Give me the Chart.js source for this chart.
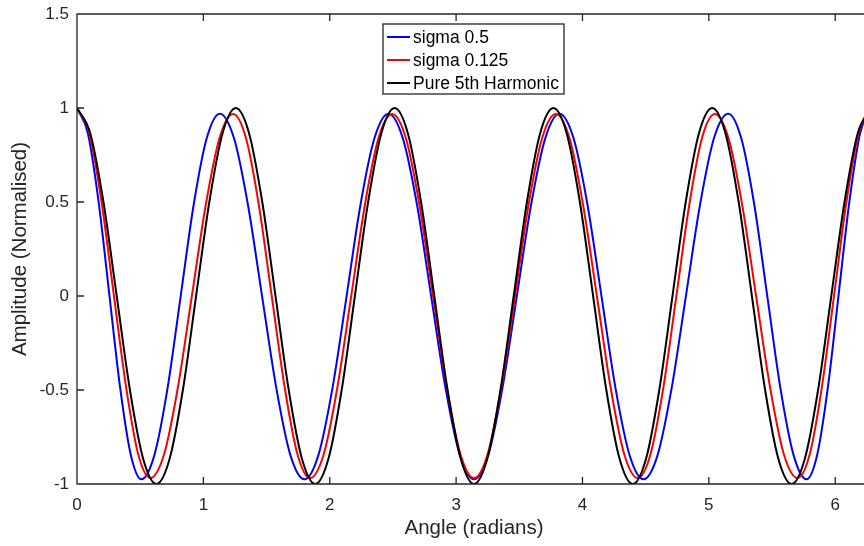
<!DOCTYPE html>
<html>
<head>
<meta charset="utf-8">
<script src="https://cdn.jsdelivr.net/npm/chart.js@4/dist/chart.umd.min.js"></script>
<style>
  html, body { margin: 0; padding: 0; background: #fff; overflow: hidden; }
  #wrap { position: absolute; left: 0; top: 0; width: 880px; height: 546px; }
</style>
</head>
<body>
<div id="wrap"><canvas id="c" width="880" height="546"></canvas></div>
<script>
// ---- data ----
const seriesLabels = ['sigma 0.5', 'sigma 0.125', 'Pure 5th Harmonic'];
const xTickValues = [0, 1, 2, 3, 4, 5, 6];
const yTickValues = [-1, -0.5, 0, 0.5, 1, 1.5];

const blueX = [0, 0.085, 0.17, 0.255, 0.34, 0.425, 0.51,
  0.613, 0.717, 0.82, 0.923, 1.027, 1.13,
  1.242, 1.353, 1.465, 1.577, 1.688, 1.80,
  1.911, 2.022, 2.133, 2.243, 2.354, 2.465,
  2.578, 2.691, 2.803, 2.916, 3.029, 3.1416,
  3.255, 3.367, 3.48, 3.593, 3.706, 3.818,
  3.929, 4.040, 4.151, 4.261, 4.372, 4.483,
  4.595, 4.706, 4.818, 4.930, 5.041, 5.153,
  5.256, 5.36, 5.463, 5.566, 5.67, 5.773,
  5.858, 5.943, 6.028, 6.113, 6.198, 6.2832];
const blueY = [1, 0.868, 0.506, 0.013, -0.481, -0.843, -0.975,
  -0.845, -0.489, -0.003, 0.484, 0.84, 0.97,
  0.84, 0.484, -0.003, -0.489, -0.845, -0.975,
  -0.845, -0.489, -0.003, 0.484, 0.84, 0.97,
  0.84, 0.484, -0.003, -0.489, -0.845, -0.975,
  -0.845, -0.489, -0.003, 0.484, 0.84, 0.97,
  0.84, 0.484, -0.003, -0.489, -0.845, -0.975,
  -0.845, -0.489, -0.003, 0.484, 0.84, 0.97,
  0.84, 0.484, -0.003, -0.489, -0.845, -0.975,
  -0.843, -0.481, 0.013, 0.506, 0.868, 1];

const redX = [0, 0.097, 0.193, 0.29, 0.387, 0.483, 0.58,
  0.69, 0.799, 0.909, 1.019, 1.128, 1.236,
  1.337, 1.439, 1.541, 1.643, 1.744, 1.845,
  1.953, 2.061, 2.17, 2.278, 2.386, 2.494,
  2.602, 2.71, 2.818, 2.926, 3.034, 3.1416,
  3.25, 3.358, 3.466, 3.573, 3.681, 3.789,
  3.897, 4.005, 4.114, 4.222, 4.33, 4.438,
  4.539, 4.641, 4.743, 4.845, 4.946, 5.047,
  5.155, 5.264, 5.374, 5.484, 5.593, 5.703,
  5.8, 5.896, 5.993, 6.09, 6.186, 6.2832];
const redY = [1, 0.868, 0.506, 0.013, -0.478, -0.838, -0.968,
  -0.84, -0.484, 0, 0.484, 0.84, 0.968,
  0.84, 0.484, 0, -0.484, -0.84, -0.968,
  -0.84, -0.484, 0, 0.484, 0.84, 0.968,
  0.84, 0.484, 0, -0.484, -0.84, -0.968,
  -0.84, -0.484, 0, 0.484, 0.84, 0.968,
  0.84, 0.484, 0, -0.484, -0.84, -0.968,
  -0.84, -0.484, 0, 0.484, 0.84, 0.968,
  0.84, 0.484, 0, -0.484, -0.84, -0.968,
  -0.838, -0.478, 0.013, 0.506, 0.868, 1];

const blackX = [0, 0.1047, 0.2094, 0.3142, 0.4189, 0.5236, 0.6283, 0.733, 0.8378, 0.9425,
  1.0472, 1.1519, 1.2566, 1.3614, 1.4661, 1.5708, 1.6755, 1.7802, 1.885, 1.9897,
  2.0944, 2.1991, 2.3038, 2.4086, 2.5133, 2.618, 2.7227, 2.8274, 2.9322, 3.0369,
  3.1416, 3.2463, 3.351, 3.4558, 3.5605, 3.6652, 3.7699, 3.8746, 3.9794, 4.0841,
  4.1888, 4.2935, 4.3982, 4.503, 4.6077, 4.7124, 4.8171, 4.9218, 5.0265, 5.1313,
  5.236, 5.3407, 5.4454, 5.5501, 5.6549, 5.7596, 5.8643, 5.969, 6.0737, 6.1785, 6.2832];
const blackY = [1, 0.866, 0.5, 0, -0.5, -0.866, -1, -0.866, -0.5, 0, 0.5, 0.866,
  1, 0.866, 0.5, 0, -0.5, -0.866, -1, -0.866, -0.5, 0, 0.5, 0.866,
  1, 0.866, 0.5, 0, -0.5, -0.866, -1, -0.866, -0.5, 0, 0.5, 0.866,
  1, 0.866, 0.5, 0, -0.5, -0.866, -1, -0.866, -0.5, 0, 0.5, 0.866,
  1, 0.866, 0.5, 0, -0.5, -0.866, -1, -0.866, -0.5, 0, 0.5, 0.866,
  1];

const xTitle = 'Angle (radians)';
const yTitle = 'Amplitude (Normalised)';
// --------------------------------------

const FONT = '"Liberation Sans", Arial, Helvetica, sans-serif';
const AXIS = '#262626';

function pts(xs, ys) { return xs.map((x, i) => ({ x: x, y: ys[i] })); }

const boxTicks = {
  id: 'boxTicks',
  afterDraw(chart) {
    const { ctx, chartArea: a, scales } = chart;
    const L = 7;
    ctx.save();
    ctx.strokeStyle = AXIS;
    ctx.lineWidth = 1.3;
    ctx.beginPath();
    ctx.rect(a.left, a.top, a.right - a.left, a.bottom - a.top);
    scales.x.ticks.forEach(t => {
      const px = scales.x.getPixelForValue(t.value);
      ctx.moveTo(px, a.bottom); ctx.lineTo(px, a.bottom - L);
      ctx.moveTo(px, a.top); ctx.lineTo(px, a.top + L);
    });
    scales.y.ticks.forEach(t => {
      const py = scales.y.getPixelForValue(t.value);
      ctx.moveTo(a.left, py); ctx.lineTo(a.left + L, py);
      ctx.moveTo(a.right, py); ctx.lineTo(a.right - L, py);
    });
    ctx.stroke();

    // legend box
    const lx = 383, ly = 24, lw = 181, lh = 70;
    ctx.fillStyle = '#fff';
    ctx.fillRect(lx, ly, lw, lh);
    ctx.strokeStyle = AXIS;
    ctx.lineWidth = 1.3;
    ctx.strokeRect(lx, ly, lw, lh);
    ctx.font = '17.5px ' + FONT;
    ctx.textBaseline = 'middle';
    ctx.textAlign = 'left';
    chart.data.datasets.forEach((ds, i) => {
      const yy = 37 + i * 23;
      ctx.strokeStyle = ds.borderColor;
      ctx.lineWidth = 2;
      ctx.beginPath();
      ctx.moveTo(387, yy); ctx.lineTo(410, yy);
      ctx.stroke();
      ctx.fillStyle = '#000';
      ctx.fillText(ds.label, 413, yy + 1);
    });
    ctx.restore();
  }
};

new Chart(document.getElementById('c'), {
  type: 'line',
  data: {
    datasets: [
      { label: seriesLabels[0], data: pts(blueX, blueY), borderColor: '#0000ff', order: 3 },
      { label: seriesLabels[1], data: pts(redX, redY), borderColor: '#ff0000', order: 2 },
      { label: seriesLabels[2], data: pts(blackX, blackY), borderColor: '#000000', order: 1 }
    ]
  },
  options: {
    responsive: false,
    animation: false,
    events: [],
    layout: { padding: { left: 0, right: 9, top: 14, bottom: 0 } },
    elements: {
      point: { radius: 0 },
      line: { borderWidth: 2, cubicInterpolationMode: 'monotone', fill: false }
    },
    plugins: { legend: { display: false }, tooltip: { enabled: false } },
    scales: {
      x: {
        type: 'linear', min: 0, max: 6.2832,
        afterFit(s) { s.height = 62; s.paddingLeft = 0; s.paddingRight = 0; },
        afterBuildTicks(s) { s.ticks = xTickValues.map(v => ({ value: v })); },
        grid: { display: false, drawTicks: false },
        border: { display: false },
        ticks: { includeBounds: false, padding: 11, color: AXIS, font: { family: FONT, size: 17 }, maxRotation: 0,
                 callback: v => String(v) },
        title: { display: true, text: xTitle, color: AXIS, font: { family: FONT, size: 20.5 }, padding: { top: 0, bottom: 5.5 } }
      },
      y: {
        type: 'linear', min: -1, max: 1.5,
        afterFit(s) { s.width = 77; s.paddingTop = 0; s.paddingBottom = 0; },
        afterBuildTicks(s) { s.ticks = yTickValues.map(v => ({ value: v })); },
        grid: { display: false, drawTicks: false },
        border: { display: false },
        ticks: { padding: 8, color: AXIS, font: { family: FONT, size: 17 }, callback: v => String(v) },
        title: { display: true, text: yTitle, color: AXIS, font: { family: FONT, size: 20.5 }, padding: { top: 8, bottom: 0 } }
      }
    }
  },
  plugins: [boxTicks]
});
</script>
</body>
</html>
